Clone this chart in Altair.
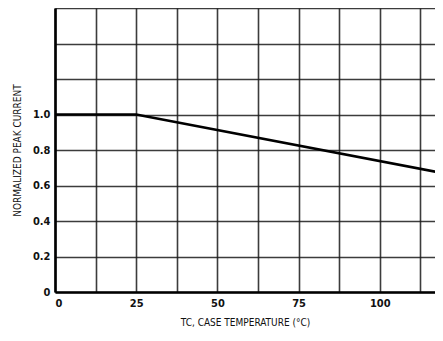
import altair as alt
import pandas as pd

# Curve
temps = [0, 25, 125]
peak = [1.0, 1.0, 0.65]

# Axis ticks / grid
x_grid = [0, 12.5, 25, 37.5, 50, 62.5, 75, 87.5, 100, 112.5, 125]
y_grid = [0, 0.2, 0.4, 0.6, 0.8, 1.0, 1.2, 1.4, 1.6]

df = pd.DataFrame({"t": temps, "i": peak})

FONT = "Liberation Sans Narrow, DejaVu Sans Condensed, Arial Narrow, sans-serif"

chart = alt.Chart(df).mark_line(color="black", strokeWidth=2.6, clip=True).encode(
    x=alt.X("t:Q",
            scale=alt.Scale(domain=[0, 117], nice=False, zero=False),
            axis=alt.Axis(values=x_grid, ticks=False, grid=True,
                          labelExpr="datum.value % 25 == 0 ? format(datum.value, 'd') : ''",
                          labelPadding=5, title="TC, CASE TEMPERATURE (°C)",
                          titlePadding=9)),
    y=alt.Y("i:Q",
            scale=alt.Scale(domain=[0, 1.6], nice=False),
            axis=alt.Axis(values=y_grid, ticks=False, grid=True,
                          labelExpr="datum.value == 0 ? '0' : (datum.value > 1.05 ? '' : format(datum.value, '.1f'))",
                          labelPadding=5, title="NORMALIZED PEAK CURRENT",
                          titlePadding=10)),
).properties(
    width=380, height=284,
    autosize=alt.AutoSizeParams(type="none"),
    padding={"left": 47, "top": 0, "right": 0, "bottom": 37},
).configure_view(stroke=None).configure_axis(
    domainColor="black", domainWidth=2.6,
    gridColor="#1a1a1a", gridWidth=1.6, gridOpacity=0.85,
    labelFont=FONT, labelFontSize=11, labelFontWeight="bold", labelColor="#111",
    titleFont=FONT, titleFontSize=10, titleFontWeight="normal", titleColor="#111",
).configure_axisY(labelAlign="right")

chart.save("out.html", embed_options={"renderer": "svg", "actions": False})
